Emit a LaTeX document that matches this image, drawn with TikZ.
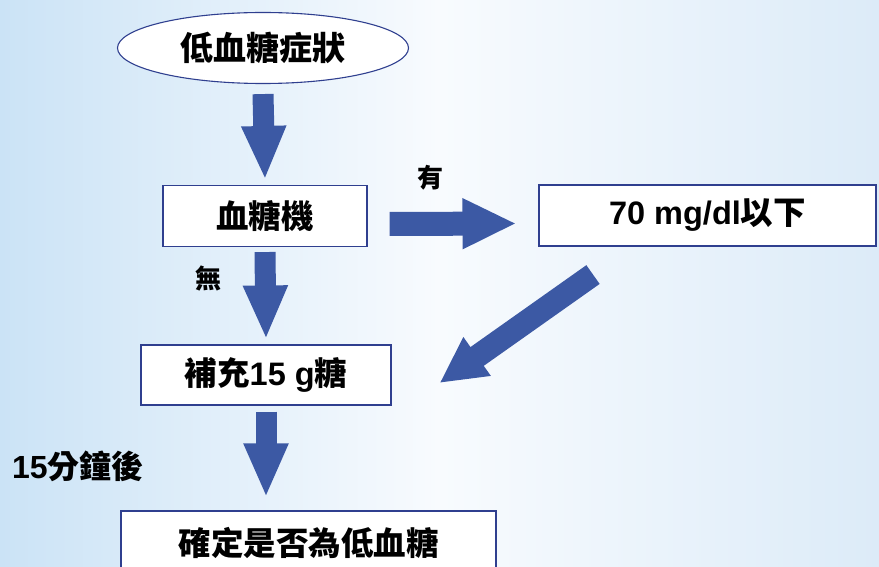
\documentclass[tikz,border=0pt]{standalone}
\usepackage{fontspec}
\setmainfont{Liberation Sans}
\newfontfamily\cjk{Noto Sans CJK TC}
\usetikzlibrary{arrows.meta,shapes.geometric}
\definecolor{arrowblue}{HTML}{3C59A4}
\definecolor{boxline}{HTML}{2F3F8F}
\definecolor{bgleft}{HTML}{CBE3F6}
\definecolor{bgmid}{HTML}{F8FBFE}
\definecolor{bgright}{HTML}{DCEBF8}
\tikzset{
  box/.style={draw=boxline, line width=1.1pt, fill=white, inner sep=0pt,
    minimum height=61pt, font=\cjk\bfseries\fontsize{32.5}{34}\selectfont},
  fatarrow/.style={draw=arrowblue, line width=21pt,
    -{Triangle[length=54pt,width=41pt,fill=arrowblue]}},
  lbl/.style={font=\cjk\bfseries\fontsize{26}{28}\selectfont}
}
\begin{document}
\begin{tikzpicture}[x=1pt,y=-1pt]
			%%%%% BACKGROUND %%%%%
			\useasboundingbox (0,0) rectangle (879,567);
			\clip (0,0) rectangle (879,567);
			\shade[left color=bgleft, right color=bgright, middle color=bgmid] (0,0) rectangle (879,567);
			
			%%%%% NODES %%%%%
			\node[ellipse, draw=boxline, line width=1.1pt, fill=white, inner sep=0pt,
			  minimum width=291pt, minimum height=71pt,
			  font=\cjk\bfseries\fontsize{33}{35}\selectfont] (sym) at (263,48) {低血糖症狀};
			\node[box, minimum width=204pt] (meter) at (265,216) {血糖機};
			\node[box, minimum width=337pt] (low) at (707.5,215.5)
			  {{\rmfamily\bfseries 70 mg/dl}以下};
			\node[box, minimum width=250pt, minimum height=60pt] (sugar) at (266,375)
			  {補充{\rmfamily\bfseries 15 g}糖};
			\node[box, minimum width=375pt, minimum height=64pt] (check) at (308.5,543) {確定是否為低血糖};
			
			\node[lbl] (yes) at (430,178) {有};
			\node[lbl] (no) at (208,278) {無};
			\node[font=\bfseries\fontsize{32}{34}\selectfont, anchor=west, inner sep=0pt] (wait) at (12,466)
			  {15{\cjk 分鐘後}};
			
			%%%%% ARROWS %%%%%
			\coordinate (c3) at (sugar.south |- check.north);
			\draw[fatarrow] ([yshift=-10pt]sym.south) -- ([yshift=5pt]meter.north);
			\draw[fatarrow, line width=24pt, -{Triangle[length=54pt,width=47pt,fill=arrowblue]}]
			  ([xshift=22pt,yshift=-8pt]meter.east) -- ([xshift=-22pt,yshift=-8pt]low.west);
			\draw[fatarrow] ([yshift=-5pt]meter.south) -- ([yshift=5pt]sugar.north);
			\draw[fatarrow, line width=23pt, -{Triangle[length=46pt,width=44pt,fill=arrowblue]}]
			  ([xshift=-114.5pt,yshift=-28pt]low.south) -- ([xshift=48pt,yshift=-8pt]sugar.east);
			\draw[fatarrow] ([yshift=-6pt]sugar.south) -- ([yshift=13pt]c3);
			
\end{tikzpicture}
\end{document}
